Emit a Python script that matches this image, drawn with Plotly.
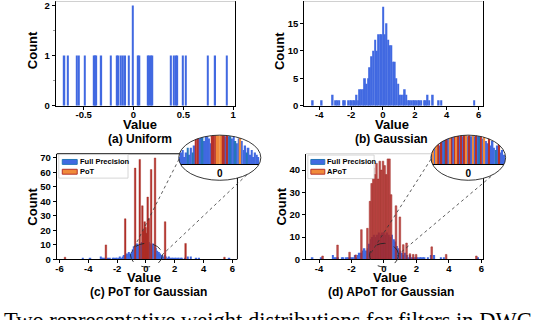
import numpy as np
import plotly.graph_objects as go

W, H = 542, 320
FONT = "Liberation Sans"

# ---------------- data ----------------
# (a) uniform weights: histogram bin centres and counts
uni_x = [-0.693, -0.657, -0.567, -0.547, -0.490, -0.397, -0.383, -0.373, -0.323,
         -0.227, -0.167, -0.150, -0.127, -0.107, -0.083, -0.047, -0.007, 0.043,
         0.060, 0.143, 0.160, 0.173, 0.190, 0.377, 0.407, 0.427, 0.440, 0.497,
         0.527, 0.747, 0.820, 0.937]
uni_count = [1, 1, 1, 1, 1, 1, 1, 1, 1, 1, 1, 1, 1, 1, 1, 1, 2, 1, 1, 1, 1, 1, 1,
             1, 1, 1, 1, 1, 1, 1, 1, 1]

# (b) gaussian weights
gau_x = [-4.41, -3.85, -3.16, -2.96, -2.85, -2.75, -2.49, -2.39, -2.18, -2.07,
         -1.97, -1.86, -1.76, -1.66, -1.55, -1.45, -1.34, -1.24, -1.13, -1.03,
         -0.92, -0.82, -0.71, -0.61, -0.50, -0.38, -0.28, -0.17, -0.08, 0.01,
         0.12, 0.22, 0.32, 0.43, 0.53, 0.64, 0.74, 0.84, 0.95, 1.05, 1.16, 1.26,
         1.37, 1.47, 1.58, 1.68, 1.79, 1.89, 2.00, 2.10, 2.20, 2.30, 2.40, 2.60,
         2.70, 2.80, 2.90, 3.13, 3.50, 3.67, 5.73]
gau_count = [1, 1, 2, 1, 1, 1, 1, 1, 1, 1,
             1, 1, 1, 2, 1, 3, 3, 3, 5, 4,
             5, 7, 9, 10, 12, 10, 13, 13, 13, 18,
             13, 15, 12, 11, 11, 8, 8, 5, 4, 2, 2, 2,
             3, 2, 1, 1, 1, 1, 1, 1, 1, 1, 1, 1,
             1, 2, 1, 2, 1, 1, 1]

# (c)/(d) full precision weights
fp_x = [-4.40, -3.85, -3.15, -3.05, -2.95, -2.85, -2.60, -2.50, -2.30, -2.20,
        -2.10, -2.00, -1.90, -1.80, -1.70, -1.60, -1.50, -1.40, -1.30, -1.20,
        -1.10, -1.00, -0.90, -0.80, -0.70, -0.60, -0.50, -0.40, -0.30, -0.20,
        -0.10, 0.00, 0.10, 0.20, 0.30, 0.40, 0.50, 0.60, 0.70, 0.80, 0.90, 1.00,
        1.10, 1.20, 1.30, 1.40, 1.50, 1.60, 1.70, 1.80, 1.90, 2.00, 2.10, 2.20,
        2.30, 2.40, 2.50, 2.70, 2.90, 3.10, 3.50, 3.70, 5.80]
fp_count = [1, 1, 2, 1, 1, 1, 1, 1, 1, 1,
            1, 1, 1, 2, 1, 2, 3, 3, 4, 5,
            4, 5, 7, 9, 10, 11, 10, 11, 12, 11,
            12, 12, 11, 12, 11, 10, 11, 9, 8, 6, 5, 4,
            3, 2, 3, 2, 1, 2, 1, 1, 1, 1, 1, 1,
            1, 1, 1, 1, 2, 2, 1, 1, 1]

# (c) PoT quantized weights
pot_x = [-5.62, -2.78, -1.44, -0.75, -0.43, -0.25, -0.17, -0.09, -0.03, 0.03,
         0.12, 0.20, 0.36, 0.63, 1.33, 2.75, 5.45]
pot_count = [1.5, 10, 28, 63, 69, 37, 20, 26, 22, 18, 43, 28, 62, 70, 26, 11, 1.5]

# (d) APoT quantized weights
apot_x = [-3.78, -2.86, -2.12, -1.74, -1.39, -1.02, -0.86, -0.76, -0.66, -0.56,
          -0.46, -0.36, -0.26, -0.16, -0.06, 0.04, 0.14, 0.24, 0.34, 0.44, 0.74,
          0.98, 1.19, 1.39, 1.60, 1.80, 1.98, 2.94, 3.83, 5.69]
apot_count = [1.5, 6.4, 3.2, 2.0, 13.3, 13.9, 26, 34, 41, 38,
              43, 36, 44, 40, 44, 42, 38, 45, 45, 29, 24,
              19, 6.6, 7.3, 2.5, 2.2, 2.2, 5.6, 2.2, 1.5]

# zoomed insets around 0
inset_c_x = [-0.98, -0.94, -0.90, -0.86, -0.82, -0.78, -0.74, -0.70, -0.66, -0.62,
             -0.58, -0.54, -0.50, -0.46, -0.42, -0.38, -0.34, -0.30, -0.26, -0.22,
             -0.18, -0.14, -0.10, -0.06, -0.02, 0.02, 0.06, 0.10, 0.14, 0.18,
             0.22, 0.26, 0.30, 0.34, 0.38, 0.42, 0.46, 0.50, 0.54, 0.58,
             0.62, 0.66, 0.70, 0.74, 0.78, 0.82, 0.86, 0.90, 0.94]
inset_c_count = [3, 5, 6, 3, 5, 7, 4, 7, 5, 8,
                 14, 14, 11, 12, 12, 10, 12, 12, 11, 9,
                 14, 14, 14, 14, 14, 14, 14, 14, 12, 14,
                 12, 12, 11, 12, 10, 9, 11, 14, 10, 6,
                 8, 5, 7, 4, 6, 3, 5, 4, 3]
inset_c_kind = ['fp', 'fp', 'fp', 'fp', 'fp', 'fp_edge', 'fp', 'fp', 'fp_edge', 'fp',
                'q', 'q', 'fp', 'fp', 'fp_edge', 'fp', 'fp', 'fp', 'fp', 'fp',
                'q', 'q', 'q', 'q_fill', 'q_fill', 'q_fill', 'q', 'q', 'fp', 'q',
                'fp', 'fp_edge', 'fp', 'fp', 'fp_edge', 'fp', 'fp', 'q_fill', 'fp', 'fp',
                'fp', 'fp_edge', 'fp', 'fp', 'fp', 'fp', 'fp', 'fp', 'fp']

inset_d_x = [-0.98, -0.94, -0.89, -0.85, -0.80, -0.76, -0.72, -0.67, -0.63, -0.58,
             -0.54, -0.49, -0.45, -0.41, -0.36, -0.32, -0.27, -0.23, -0.19, -0.14,
             -0.10, -0.05, -0.01, 0.03, 0.08, 0.12, 0.17, 0.21, 0.25, 0.30,
             0.34, 0.39, 0.43, 0.47, 0.52, 0.56, 0.61, 0.65, 0.69, 0.74,
             0.78, 0.83, 0.87, 0.91, 0.96]
inset_d_count = [5, 7, 8, 9, 14, 8, 14, 11, 12, 14,
                 12, 14, 14, 12, 14, 14, 14, 12, 14, 12,
                 14, 14, 12, 14, 12, 14, 12, 14, 12, 12,
                 14, 11, 14, 10, 9, 14, 8, 10, 7, 6,
                 8, 14, 5, 6, 4]
inset_d_kind = ['fp', 'q_fill', 'fp', 'q_fill', 'q', 'fp', 'q', 'fp', 'fp_edge', 'q',
                'fp', 'q_fill', 'q', 'fp', 'q', 'q_fill', 'q', 'fp', 'q', 'fp',
                'q', 'q_fill', 'fp', 'q', 'fp', 'q_fill', 'fp', 'q', 'fp', 'fp_edge',
                'q', 'fp', 'q_fill', 'fp', 'fp', 'q', 'fp', 'fp', 'fp', 'fp_edge',
                'fp', 'q', 'fp', 'fp', 'fp']

# ---------------- helpers ----------------
def fx(x):
    return x / W

def fy(y):
    return 1 - y / H

BLUE = "#4169E1"
DARK = "#2676B8"
RED = "#B5302A"
ORANGE = "#F08A3A"
kind_color = {"fp": BLUE, "fp_edge": DARK, "q": RED, "q_fill": ORANGE}

fig = go.Figure()

# (a)
fig.add_trace(go.Bar(x=uni_x, y=uni_count, width=0.016, marker=dict(color=BLUE, line_width=0),
                     xaxis="x", yaxis="y"))
# (b)
fig.add_trace(go.Bar(x=gau_x, y=gau_count, width=0.106, marker=dict(color=BLUE, line_width=0),
                     xaxis="x2", yaxis="y2"))
# (c)
fig.add_trace(go.Bar(x=fp_x, y=fp_count, width=0.1, marker=dict(color=BLUE, line_width=0),
                     xaxis="x3", yaxis="y3"))
fig.add_trace(go.Bar(x=pot_x, y=pot_count, width=0.11,
                     marker=dict(color=RED, line=dict(color="#9E2A22", width=0.4)),
                     xaxis="x3", yaxis="y3"))
# (d)
fig.add_trace(go.Bar(x=fp_x, y=fp_count, width=0.1, marker=dict(color=BLUE, line_width=0),
                     xaxis="x4", yaxis="y4"))
fig.add_trace(go.Bar(x=apot_x, y=apot_count, width=0.1,
                     marker=dict(color="rgba(180,40,40,0.82)", line=dict(color="#9E2A22", width=0.5)),
                     xaxis="x4", yaxis="y4"))

# insets
for xs, ys, kinds, xa, ya, w in [(inset_c_x, inset_c_count, inset_c_kind, "x5", "y5", 0.04),
                                 (inset_d_x, inset_d_count, inset_d_kind, "x6", "y6", 0.044)]:
    for k in ["fp", "fp_edge", "q", "q_fill"]:
        sel = [i for i, kk in enumerate(kinds) if kk == k]
        fig.add_trace(go.Bar(x=[xs[i] for i in sel], y=[ys[i] for i in sel], width=w,
                             marker=dict(color=kind_color[k], line_width=0),
                             xaxis=xa, yaxis=ya))

# ---------------- axes ----------------
tickfont = dict(family=FONT, size=9.5, color="black", weight="bold")

def axis(domain, rng, anchor, **kw):
    d = dict(domain=domain, range=rng, anchor=anchor, showline=True, linecolor="black",
             linewidth=1, ticks="outside", ticklen=3, tickwidth=1, tickcolor="black",
             tickfont=tickfont, showgrid=False, zeroline=False, fixedrange=True,
             ticklabeloverflow="allow")
    d.update(kw)
    return d

def labels(vals):
    return ["%g" % v for v in vals]

xt_a = [-0.5, 0, 0.5, 1]
xt_b = [-4, -2, 0, 2, 4, 6]
xt_c = [-6, -4, -2, 0, 2, 4, 6]

inset_axis = dict(range=[-1, 1], showline=True, linecolor="black", linewidth=1.2, ticks="",
                  tickvals=[0], ticktext=["0"], tickfont=dict(family=FONT, size=10, color="black", weight="bold"),
                  showgrid=False, zeroline=False, fixedrange=True)

fig.update_layout(
    xaxis=axis([fx(55), fx(235)], [-0.78, 1.02], "y", tickvals=xt_a, ticktext=labels(xt_a),
               ticklabelstandoff=-3),
    yaxis=axis([fy(106.7), 1], [0, 2.09], "x", tickvals=[0, 1, 2], mirror=True,
               minor=dict(tickvals=[0.5, 1.5], ticklen=2, tickcolor="#999", ticks="outside")),
    xaxis2=axis([fx(304.3), fx(483.3)], [-4.95, 6.25], "y2", tickvals=xt_b, ticktext=labels(xt_b),
                ticklabelstandoff=-3),
    yaxis2=axis([fy(106.7), 1], [0, 19.05], "x2", tickvals=[0, 5, 10, 15], mirror=True),
    xaxis3=axis([fx(56), fx(237.3)], [-6.19, 6.35], "y3", tickvals=xt_c, ticktext=labels(xt_c),
                ticklabelstandoff=-3),
    yaxis3=axis([fy(263.3), fy(155.7)], [0, 72.9], "x3", tickvals=[0, 10, 20, 30, 40, 50, 60, 70]),
    xaxis4=axis([fx(306), fx(484.3)], [-4.81, 6.13], "y4", tickvals=xt_b, ticktext=labels(xt_b),
                ticklabelstandoff=-3),
    yaxis4=axis([fy(263.3), fy(155.7)], [0, 47.3], "x4", tickvals=[0, 10, 20, 30, 40]),
    xaxis5=dict(inset_axis, domain=[fx(178.4), fx(260.8)], anchor="y5"),
    yaxis5=dict(domain=[fy(166), fy(136.7)], range=[0, 12.5], anchor="x5", visible=False, fixedrange=True),
    xaxis6=dict(inset_axis, domain=[fx(431.5), fx(506.5)], anchor="y6"),
    yaxis6=dict(domain=[fy(166), fy(136.7)], range=[0, 12.5], anchor="x6", visible=False, fixedrange=True),
    barmode="overlay",
    showlegend=False,
    width=W, height=H,
    margin=dict(l=0, r=0, t=0, b=0),
    paper_bgcolor="white", plot_bgcolor="rgba(0,0,0,0)",
)

# ---------------- decorations ----------------
shapes = []

def line(x0, y0, x1, y1, color="black", width=1, dash="solid"):
    shapes.append(dict(type="line", xref="paper", yref="paper", x0=fx(x0), y0=fy(y0),
                       x1=fx(x1), y1=fy(y1), line=dict(color=color, width=width, dash=dash),
                       layer="above"))

def rect(x0, y0, x1, y1, fill, color, width):
    shapes.append(dict(type="rect", xref="paper", yref="paper", x0=fx(x0), y0=fy(y0),
                       x1=fx(x1), y1=fy(y1), fillcolor=fill,
                       line=dict(color=color, width=width), layer="above"))

def ellipse(cx, cy, rx, ry, color="black", width=1, dash="solid"):
    shapes.append(dict(type="circle", xref="paper", yref="paper", x0=fx(cx - rx), x1=fx(cx + rx),
                       y0=fy(cy + ry), y1=fy(cy - ry), line=dict(color=color, width=width, dash=dash),
                       layer="above"))

def mask(cx, cy, rx, ry):
    # white area round an ellipse, so the zoom inset looks elliptical
    x0, x1 = cx - rx - 1, cx + rx + 1
    y0, y1 = cy - ry - 1, cy + ry + 1
    p = "M%.5f,%.5f L%.5f,%.5f L%.5f,%.5f L%.5f,%.5f Z " % (
        fx(x0), fy(y0), fx(x1), fy(y0), fx(x1), fy(y1), fx(x0), fy(y1))
    t = np.linspace(0, 2 * np.pi, 90, endpoint=False)
    pts = ["%.5f,%.5f" % (fx(cx + rx * np.cos(a)), fy(cy + ry * np.sin(a))) for a in t]
    p += "M" + " L".join(pts) + " Z"
    shapes.append(dict(type="path", xref="paper", yref="paper", path=p, fillcolor="white",
                       fillrule="evenodd", line=dict(width=0), layer="above"))

# thin grey top edges of the cropped panels
line(55, 0.5, 235, 0.5, color="#d0d0d0")
line(304.3, 0.5, 483.3, 0.5, color="#d0d0d0")

# inset masks and outlines
mask(219.6, 159.7, 41.2, 23)
mask(469.0, 159.7, 37.5, 23)
ellipse(219.6, 159.7, 41.2, 23, color="#222", width=0.9)
ellipse(469.0, 159.7, 37.5, 23, color="#222", width=0.9)

# spines of (c) and (d) that stop at the insets
line(56, 155.7, 179.2, 155.7)
line(237.3, 180.4, 237.3, 263.3)
line(306, 155.7, 432.1, 155.7, color="#d0d0d0")
line(484.3, 180.7, 484.3, 263.3)

# small zoom regions and connectors
ellipse(146, 259, 16, 12, color="#222", width=0.9, dash="dash")
ellipse(384.5, 259, 14.5, 12, color="#222", width=0.9, dash="dash")
line(131, 256.5, 179, 160.5, color="#333", width=0.8, dash="dot")
line(161.5, 259, 247.2, 176.7, color="#333", width=0.8, dash="dot")
line(371.5, 256.5, 432, 160.5, color="#333", width=0.8, dash="dot")
line(397.5, 259.5, 494.3, 176.7, color="#333", width=0.8, dash="dot")

# legends
rect(58, 156.5, 127.5, 180.5, "white", "#cccccc", 0.8)
rect(61.5, 161.5, 76.5, 166.5, BLUE, DARK, 1)
rect(61.5, 171.5, 76.5, 176.5, ORANGE, RED, 1)
rect(308, 157, 374.5, 181, "white", "#cccccc", 0.8)
rect(311, 161.5, 325, 166.5, BLUE, DARK, 1)
rect(311, 171.5, 325, 176.5, ORANGE, RED, 1)

fig.update_layout(shapes=shapes)

# ---------------- text ----------------
anns = []

def text(s, x, y, size, angle=0, xanchor="center", family=FONT, weight="bold"):
    anns.append(dict(text=s, x=fx(x), y=fy(y), xref="paper", yref="paper", showarrow=False,
                     xanchor=xanchor, yanchor="middle", textangle=angle,
                     font=dict(family=family, size=size, color="black", weight=weight)))

text("Value", 139.5, 126, 13)
text("Value", 392.3, 126, 13)
text("Value", 143.3, 281.7, 13)
text("Value", 390.2, 281.7, 13)
text("Count", 31.2, 50, 13, angle=-90)
text("Count", 279.5, 50.5, 13, angle=-90)
text("Count", 31.2, 209.5, 13, angle=-90)
text("Count", 281.5, 209, 13, angle=-90)
text("(a) Uniform", 139.2, 141, 12)
text("(b) Gaussian", 392, 141, 12)
text("(c) PoT for Gaussian", 148.3, 296.5, 12)
text("(d) APoT for Gaussian", 391.5, 296.5, 12)
text("Full Precision", 77.3, 164, 7.5, xanchor="left")
text("PoT", 77.3, 174, 7.5, xanchor="left")
text("Full Precision", 325.5, 164, 7.5, xanchor="left")
text("APoT", 325.5, 174, 7.5, xanchor="left")
text("Two representative weight distributions for filters in DWC", 1, 326, 22.5,
     xanchor="left", family="Liberation Serif", weight="normal")

fig.update_layout(annotations=anns)

# the page body has a default 8px margin; drop it so the figure starts at the corner
fig.write_html("out.html", config={"displayModeBar": False},
               post_script="document.body.style.margin='0';")
